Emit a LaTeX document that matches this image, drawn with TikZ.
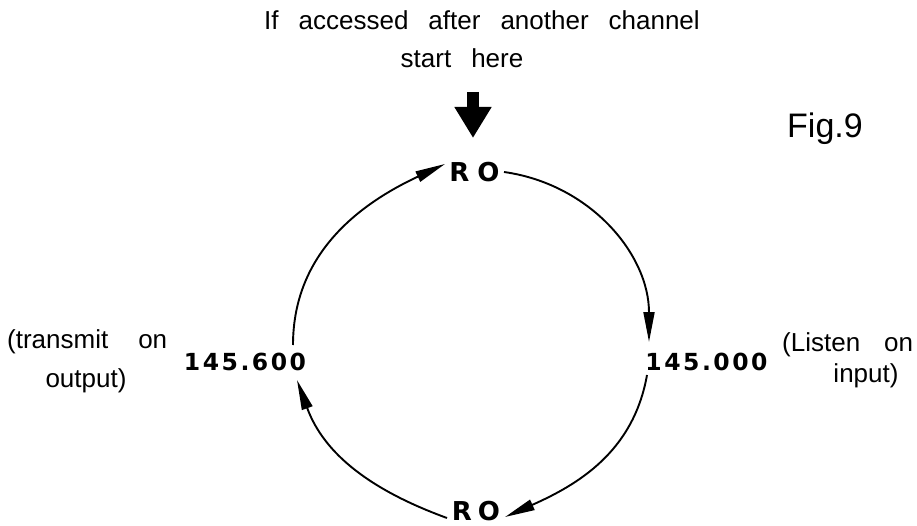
\documentclass[tikz,border=0pt]{standalone}
\usepackage{fontspec}
\setmainfont{Liberation Sans}
\newfontfamily\numfont{DejaVu Sans}
\usetikzlibrary{arrows.meta}
\newcommand\dgap{\kern2.5pt}
\newcommand\widewords{\spaceskip=20pt\relax}
\begin{document}
\begin{tikzpicture}[x=1pt,y=1pt,
  txt/.style={font=\fontsize{26}{30}\selectfont, inner sep=0pt, anchor=base},
  num/.style={font=\numfont\bfseries\fontsize{23.5}{28}\selectfont, inner sep=0pt, anchor=base},
  ro/.style={font=\numfont\bfseries\fontsize{26}{30}\selectfont, inner sep=0pt, anchor=base},
  ring/.style={line width=1.9pt, -{Triangle[length=30pt,width=11pt]}},
  bigarrow/.style={line width=12pt, -{Triangle[length=31pt,width=35pt]}}]
\useasboundingbox (0,0) rectangle (917,525);

% heading
\node[txt] (head1) at (482,495) {\widewords If accessed after another channel};
\node[txt] (head2) at (462,457) {\widewords start here};
\coordinate (arrtail) at (473,433);
\coordinate (arrtip) at (473,387);
\draw[bigarrow] (arrtail) -- (arrtip);

% figure label
\node[txt, anchor=base west, font=\fontsize{34}{40}\selectfont] (fig) at (787,387) {Fig.9};

% ring labels
\node[ro] (rotop) at (474.5,343) {R\kern8pt O};
\node[ro] (robot) at (476,5) {R\kern6pt O};
\node[num] (f600) at (245,155) {1\dgap4\dgap5\dgap.\dgap6\dgap0\dgap0};
\node[num] (f000) at (706.5,155) {1\dgap4\dgap5\dgap.\dgap0\dgap0\dgap0};

% side notes
\node[txt, anchor=base west] (tx1) at (7,177) {(transmit\hspace{30pt}on};
\node[txt] (tx2) at (86,138) {output)};
\node[txt, anchor=base west] (ls1) at (782,174) {(Listen\hspace{24pt}on};
\node[txt] (ls2) at (866,143) {input)};

% ring end points
\coordinate (ulS) at (293,180);
\coordinate (ulE) at (445,361);
\coordinate (urS) at (504,353);
\coordinate (urE) at (649,183);
\coordinate (lrS) at (647,150);
\coordinate (lrE) at (505,8);
\coordinate (llS) at (447,7);
\coordinate (llE) at (297,145);

% the four arcs of the ring
\draw[ring] (ulS) to[out=90,in=205] (ulE);
\draw[ring] (urS) to[out=-8,in=90] (urE);
\draw[ring] (lrS) to[out=-100,in=24] (lrE);
\draw[ring] (llS) to[out=160,in=-70] (llE);
\end{tikzpicture}
\end{document}
